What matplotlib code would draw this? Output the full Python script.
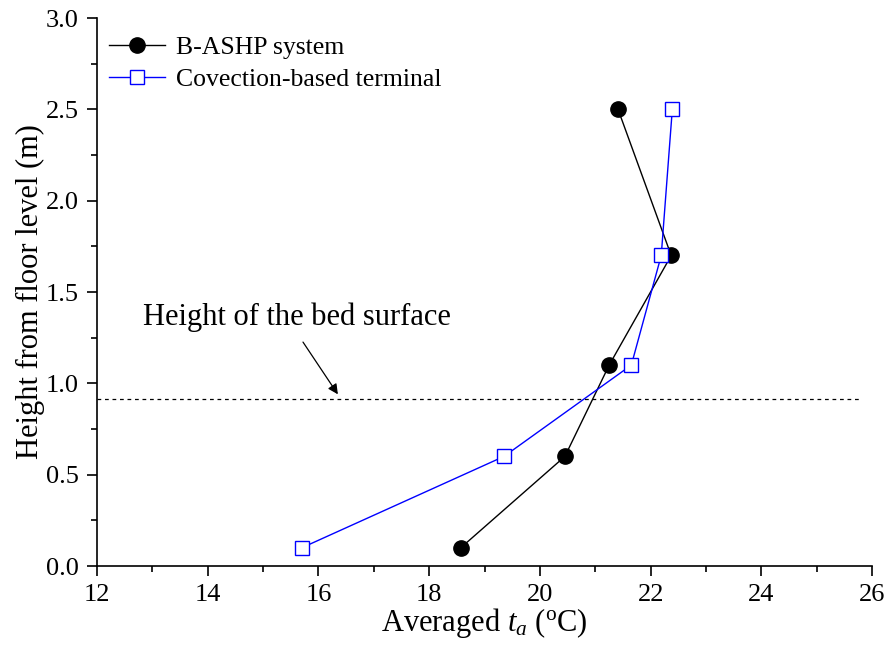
import matplotlib
matplotlib.use("Agg")
import matplotlib.pyplot as plt
from matplotlib.ticker import MultipleLocator

plt.rcParams['font.family'] = ['Liberation Serif', 'DejaVu Serif']
plt.rcParams['mathtext.fontset'] = 'custom'
plt.rcParams['mathtext.rm'] = 'Liberation Serif'
plt.rcParams['mathtext.it'] = 'Liberation Serif:italic'

heights = [0.1, 0.6, 1.1, 1.7, 2.5]
bashp_temp = [18.57, 20.45, 21.25, 22.37, 21.41]
conv_temp = [15.70, 19.35, 21.65, 22.19, 22.39]
bed_height = 0.915

fig = plt.figure(figsize=(8.9, 6.53), dpi=100)
ax = fig.add_axes([0.109, 0.1332, 0.871, 0.8392])

ax.plot(bashp_temp, heights, color='black', lw=1.0, marker='o', ms=11,
        mfc='black', mec='black', label='B-ASHP system')
ax.plot(conv_temp, heights, color='#0000ff', lw=1.0, marker='s', ms=9.5,
        mfc='white', mec='#0000ff', mew=1.0, label='Covection-based terminal')

ax.plot([12, 25.82], [bed_height, bed_height], color='black', lw=0.9,
        linestyle=(0, (3, 3)))
ax.annotate('', xy=(16.35, 0.94), xytext=(15.72, 1.226),
            arrowprops=dict(arrowstyle='-|>', color='black', lw=0.9,
                            mutation_scale=15, shrinkA=0, shrinkB=0))
ax.text(12.83, 1.32, 'Height of the bed surface', fontsize=22,
        ha='left', va='baseline')

ax.set_xlim(12, 26)
ax.set_ylim(0, 3.0)
ax.xaxis.set_major_locator(MultipleLocator(2))
ax.xaxis.set_minor_locator(MultipleLocator(1))
ax.yaxis.set_major_locator(MultipleLocator(0.5))
ax.yaxis.set_minor_locator(MultipleLocator(0.25))
ax.yaxis.set_major_formatter(matplotlib.ticker.FormatStrFormatter('%.1f'))

for s in ['top', 'right']:
    ax.spines[s].set_visible(False)
for s in ['left', 'bottom']:
    ax.spines[s].set_linewidth(1.2)

ax.tick_params(which='major', direction='out', length=7, width=1.2,
               labelsize=19, pad=6)
ax.tick_params(which='minor', direction='out', length=4, width=1.2)

ax.set_xlabel('Averaged $t_a$ ($^{\\rm o}$C)', fontsize=22, labelpad=0)
ax.set_ylabel('Height from floor level (m)', fontsize=22, labelpad=1)

leg = ax.legend(loc='upper left', bbox_to_anchor=(-0.008, 1.0), frameon=False,
                fontsize=18.5, handlelength=2.2, handletextpad=0.4,
                labelspacing=0.35, borderaxespad=0.3)

fig.savefig('out.png', dpi=100)
